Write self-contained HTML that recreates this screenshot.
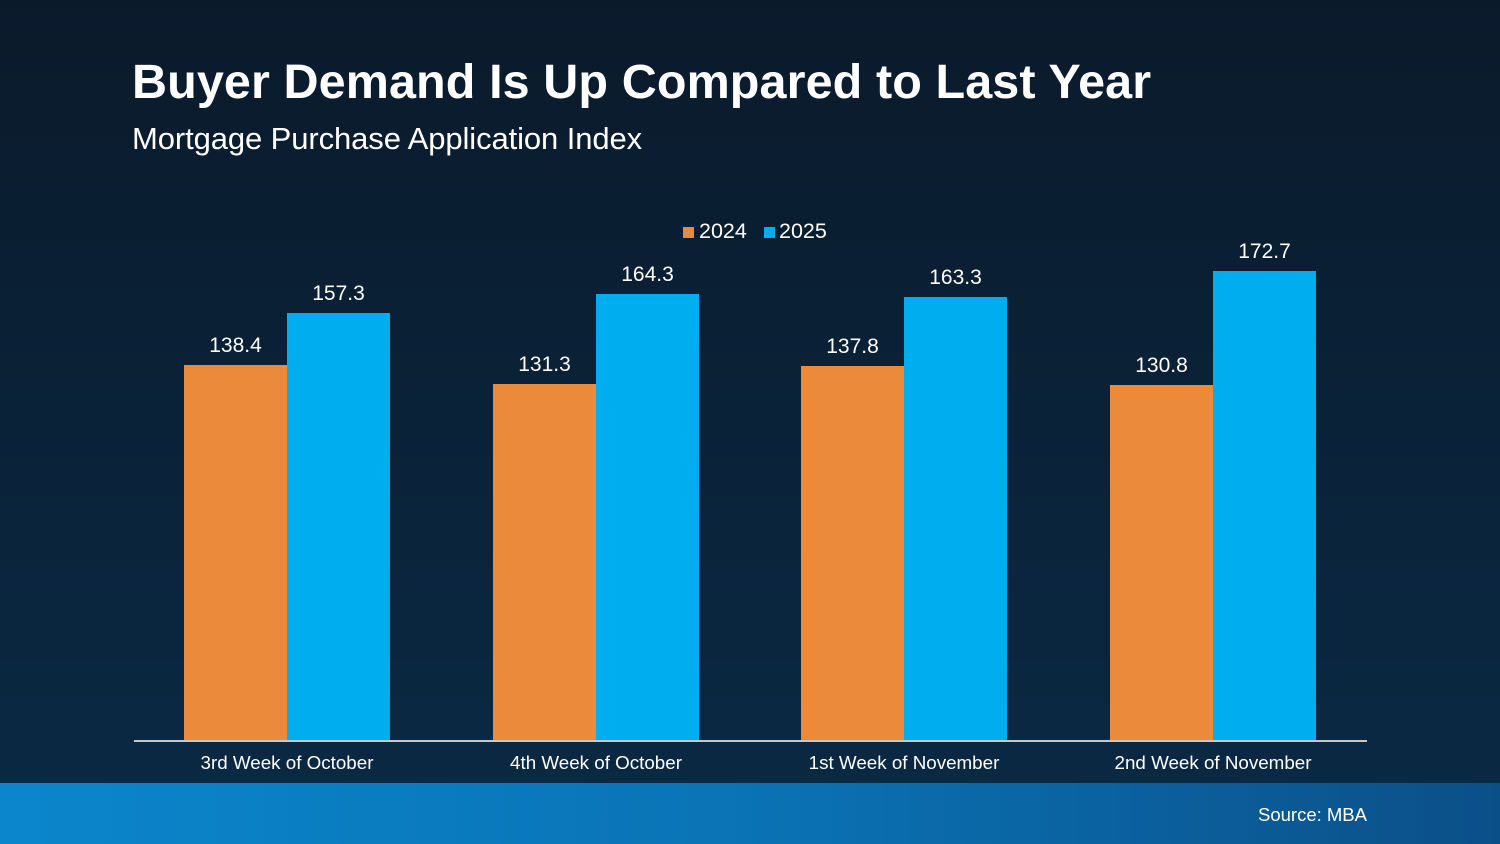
<!DOCTYPE html>
<html><head><meta charset="utf-8"><style>
body{margin:0;width:1500px;height:844px;overflow:hidden;font-family:"Liberation Sans",sans-serif;}
.bg{position:absolute;left:0;top:0;width:1500px;height:844px;background:linear-gradient(180deg,#0b1a2b 0%,#0a2238 50%,#0a2a45 100%);}
.foot{position:absolute;left:0;top:783px;width:1500px;height:61px;background:linear-gradient(90deg,#0b86cc 0%,#0a73b5 50%,#0b4f88 100%);}
.t{position:absolute;color:#fff;white-space:nowrap;}
.bar{position:absolute;}
.o{background:#eb8a3a}.b{background:#00aeef}
.v{position:absolute;color:#fff;font-size:21px;width:103px;text-align:center;}
.c{position:absolute;color:#fff;font-size:18.8px;width:260px;text-align:center;top:752px;}
</style></head><body>
<div class="bg"></div>
<div class="foot"></div>
<div class="t" style="left:132px;top:54px;font-size:48.5px;font-weight:bold;letter-spacing:0.1px;">Buyer Demand Is Up Compared to Last Year</div>
<div class="t" style="left:132px;top:121px;font-size:31px;letter-spacing:-0.1px;">Mortgage Purchase Application Index</div>
<div style="position:absolute;left:683px;top:227px;width:11px;height:11px;background:#eb8a3a"></div>
<div class="t" style="left:699px;top:219px;font-size:21.5px;">2024</div>
<div style="position:absolute;left:764px;top:227px;width:11px;height:11px;background:#00aeef"></div>
<div class="t" style="left:779px;top:219px;font-size:21.5px;">2025</div>

<div class="bar o" style="left:184px;top:365px;width:103px;height:375px"></div>
<div class="bar b" style="left:287px;top:313px;width:103px;height:427px"></div>
<div class="bar o" style="left:493px;top:384px;width:103px;height:356px"></div>
<div class="bar b" style="left:596px;top:294px;width:103px;height:446px"></div>
<div class="bar o" style="left:801px;top:366px;width:103px;height:374px"></div>
<div class="bar b" style="left:904px;top:297px;width:103px;height:443px"></div>
<div class="bar o" style="left:1110px;top:385px;width:103px;height:355px"></div>
<div class="bar b" style="left:1213px;top:271px;width:103px;height:469px"></div>

<div class="v" style="left:184px;top:334px">138.4</div>
<div class="v" style="left:287px;top:282px">157.3</div>
<div class="v" style="left:493px;top:353px">131.3</div>
<div class="v" style="left:596px;top:263px">164.3</div>
<div class="v" style="left:801px;top:335px">137.8</div>
<div class="v" style="left:904px;top:266px">163.3</div>
<div class="v" style="left:1110px;top:354px">130.8</div>
<div class="v" style="left:1213px;top:240px">172.7</div>

<div style="position:absolute;left:134px;top:740px;width:1233px;height:2px;background:#c8c8c8"></div>
<div class="c" style="left:157px">3rd Week of October</div>
<div class="c" style="left:466px">4th Week of October</div>
<div class="c" style="left:774px">1st Week of November</div>
<div class="c" style="left:1083px">2nd Week of November</div>
<div class="t" style="left:1258px;top:804px;font-size:18.5px;">Source: MBA</div>
</body></html>
